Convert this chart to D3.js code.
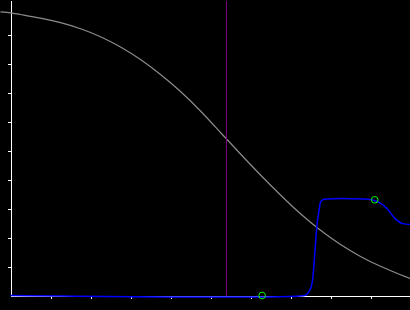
<!DOCTYPE html>
<html>
<head>
<meta charset="utf-8">
<script src="https://cdn.jsdelivr.net/npm/d3@7"></script>
<style>
html, body { margin: 0; padding: 0; background: #000; overflow: hidden; }
svg { display: block; }
</style>
</head>
<body>
<svg id="chart" width="410" height="310"></svg>
<script>
// ---- data ----
const xTicks = [1, 2, 3, 4, 5, 6, 7, 8, 9];
const yTicks = [1, 2, 3, 4, 5, 6, 7, 8, 9];

// gray descending curve
const grayX = [-0.25, 0, 0.25, 0.75, 1.25, 1.75, 2.25, 2.75, 3.25, 3.75, 4.25, 4.75, 5.25, 5.75, 6.25, 6.75, 7.25, 7.75, 8.25, 8.75, 9.25, 9.75, 10];
const grayY = [9.783, 9.748, 9.690, 9.566, 9.407, 9.200, 8.924, 8.572, 8.138, 7.621, 7.034, 6.362, 5.621, 4.879, 4.155, 3.466, 2.817, 2.247, 1.757, 1.347, 1.007, 0.717, 0.585];

// blue step-like curve
const blueX = [0, 7.35, 7.4, 7.475, 7.517, 7.55, 7.575, 7.6, 7.625, 7.65, 7.675, 7.7, 7.725, 7.75, 7.8, 7.95, 8.75, 9.0, 9.167, 9.25, 9.333, 9.417, 9.5, 9.583, 9.667, 9.75, 9.833, 10];
const blueY = [0, 0, 0.03, 0.17, 0.29, 0.52, 0.86, 1.32, 1.78, 2.24, 2.59, 2.82, 3.04, 3.22, 3.30, 3.33, 3.33, 3.31, 3.24, 3.18, 3.10, 2.99, 2.85, 2.70, 2.59, 2.51, 2.47, 2.45];

// vertical marker
const markerX = [5.4];

// green markers
const pointX = [6.29, 9.105];
const pointY = [0, 3.30];

// ---- chart ----
const svg = d3.select("#chart");
const g = svg.append("g").attr("transform", "translate(0.5,0.5)");

const x = d3.scaleLinear().domain([0, 10]).range([10, 410]);
const y = d3.scaleLinear().domain([0, 295 / 29]).range([295, 0]);

// y axis
const yAxis = d3.axisLeft(y).tickValues(yTicks).tickSize(3).tickSizeOuter(0).tickFormat("");
const ya = g.append("g").attr("transform", `translate(${x(0)},0)`).call(yAxis);
ya.selectAll("path, line").attr("stroke", "#fff").attr("stroke-width", 1).attr("shape-rendering", "crispEdges");

// x axis
const xAxis = d3.axisBottom(x).tickValues(xTicks).tickSize(3).tickSizeOuter(0).tickFormat("");
const xa = g.append("g").attr("transform", `translate(0,${y(0)})`).call(xAxis);
xa.selectAll("path, line").attr("stroke", "#fff").attr("stroke-width", 1).attr("shape-rendering", "crispEdges");

// gray curve
const grayData = grayX.map((v, i) => [v, grayY[i]]);
g.append("path")
  .datum(grayData)
  .attr("fill", "none")
  .attr("stroke", "#8c8c8c")
  .attr("stroke-width", 1.2)
  .attr("d", d3.line().x(d => x(d[0])).y(d => y(d[1])).curve(d3.curveNatural));

// purple vertical line
g.selectAll(".marker").data(markerX).enter().append("line")
  .attr("x1", d => Math.round(x(d))).attr("x2", d => Math.round(x(d)))
  .attr("y1", y.range()[1]).attr("y2", y(0))
  .attr("stroke", "#800080").attr("stroke-width", 1)
  .attr("shape-rendering", "crispEdges");

// blue curve
const blueData = blueX.map((v, i) => [v, blueY[i]]);
g.append("path")
  .datum(blueData)
  .attr("fill", "none")
  .attr("stroke", "#0000ff")
  .attr("stroke-width", 1.5)
  .attr("d", d3.line().x(d => x(d[0])).y(d => y(d[1])).curve(d3.curveCatmullRom.alpha(0.5)));

// green circles
g.selectAll(".pt").data(pointX.map((v, i) => [v, pointY[i]])).enter().append("circle")
  .attr("cx", d => x(d[0]))
  .attr("cy", d => y(d[1]))
  .attr("r", 3.3)
  .attr("fill", "none")
  .attr("stroke", "#00ff00")
  .attr("stroke-width", 1);
</script>
</body>
</html>
